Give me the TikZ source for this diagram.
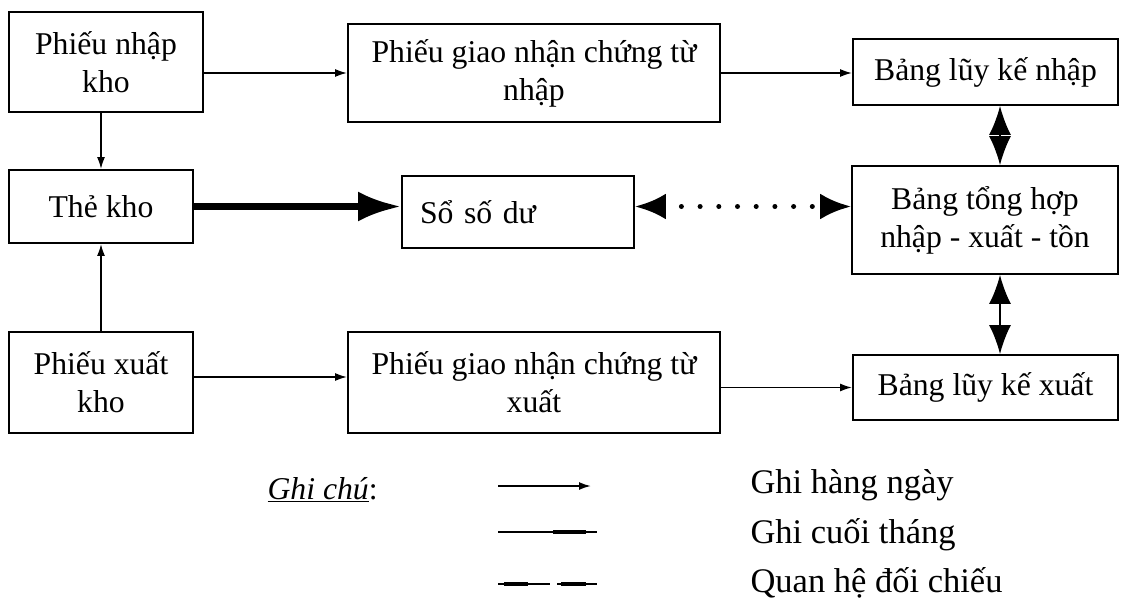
\documentclass[tikz,border=0pt]{standalone}
\usepackage{fontspec}
\setmainfont{Liberation Serif}
\usetikzlibrary{arrows.meta,calc}

\begin{document}
\begin{tikzpicture}[x=1pt,y=-1pt,
        box/.style={draw,line width=1.8pt,inner sep=0pt,align=center,
                    font=\fontsize{31.7}{38}\selectfont},
        daily/.style={line width=1.8pt,-{Latex[length=12pt,width=8pt]}},
        monthly/.style={line width=7pt,-{Latex[length=43pt,width=30pt]}},
        compare/.style={line width=1.8pt,{Latex[length=29pt,width=22pt]}-{Latex[length=29pt,width=22pt]}},
        dots/.style={line width=5pt,line cap=round,dash pattern=on 0pt off 18.7pt,dash phase=0.7pt,
                     {Latex[length=31pt,width=26pt]}-{Latex[length=31pt,width=26pt]}},
        legend/.style={anchor=west,font=\fontsize{34.5}{40}\selectfont}]
        \useasboundingbox (0,0) rectangle (1121,607);

        % top row
        \node[box,minimum width=194pt,minimum height=100pt] (nhapkho) at (106,62) {Phiếu nhập\\kho};
        \node[box,minimum width=372pt,minimum height=98pt] (gnnhap) at (534,73) {Phiếu giao nhận chứng từ\\nhập};
        \node[box,minimum width=265pt,minimum height=66pt] (lknhap) at (985.5,72) {Bảng lũy kế nhập};
        \draw[daily] (gnnhap.west -| nhapkho.east) -- (gnnhap.west);
        \draw[daily] (gnnhap.east) -- (gnnhap.east -| lknhap.west);

        % middle row
        \node[box,minimum width=184pt,minimum height=73pt] (thekho) at (101,206.5) {Thẻ kho};
        \node[box,minimum width=232pt,minimum height=72pt,text width=196pt,align=left] (soduu) at (518,212) {Sổ số dư};
        \node[box,minimum width=266pt,minimum height=108pt] (tonghop) at (985,220) {Bảng tổng hợp\\nhập - xuất - tồn};
        \draw[monthly] (thekho.east) -- (thekho.east -| soduu.west);
        \draw[dots] (thekho.east -| soduu.east) -- (thekho.east -| tonghop.west);

        % bottom row
        \node[box,minimum width=184pt,minimum height=101pt] (xuatkho) at (101,382.5) {Phiếu xuất\\kho};
        \node[box,minimum width=372pt,minimum height=101pt] (gnxuat) at (534,382.5) {Phiếu giao nhận chứng từ\\xuất};
        \node[box,minimum width=265pt,minimum height=65pt] (lkxuat) at (985.5,387.5) {Bảng lũy kế xuất};
        \draw[daily] ([yshift=5.5pt]xuatkho.east) -- ([yshift=5.5pt]xuatkho.east -| gnxuat.west);
        \draw[daily] (lkxuat.west -| gnxuat.east) -- (lkxuat.west);

        % vertical links
        \draw[daily] (nhapkho.south -| thekho.north) -- (thekho.north);
        \draw[daily] (xuatkho.north) -- (thekho.south);
        \draw[compare] ([xshift=14.5pt]lknhap.south) -- ([xshift=14.5pt]lknhap.south |- tonghop.north);
        \draw[compare] ([xshift=15pt]tonghop.south) -- ([xshift=15pt]tonghop.south |- lkxuat.north);

        % legend
        \node[legend,font=\fontsize{31.7}{38}\selectfont] (note) at (264,490) {\underline{\textit{Ghi chú}}:};
        \coordinate (d1) at (498,486);
        \coordinate (d2) at (591,486);
        \draw[daily] (d1) -- (d2);
        \coordinate (m1) at (498,532);
        \coordinate (m2) at (597,532);
        \draw[line width=1.8pt] (m1) -- (m2);
        \draw[line width=4.5pt] ($(m1)+(55,0)$) -- ($(m1)+(88,0)$);
        \coordinate (c1) at (498,584);
        \coordinate (c2) at (597,584);
        \draw[line width=1.8pt,dash pattern=on 52pt off 7pt] (c1) -- (c2);
        \draw[line width=4.5pt] ($(c1)+(6,0)$) -- ($(c1)+(30,0)$) ($(c1)+(63,0)$) -- ($(c1)+(88,0)$);
        \node[legend] (legdaily) at (747,485) {Ghi hàng ngày};
        \node[legend] (legmonthly) at (747,535) {Ghi cuối tháng};
        \node[legend] (legcompare) at (747,583) {Quan hệ đối chiếu};
\end{tikzpicture}
\end{document}
